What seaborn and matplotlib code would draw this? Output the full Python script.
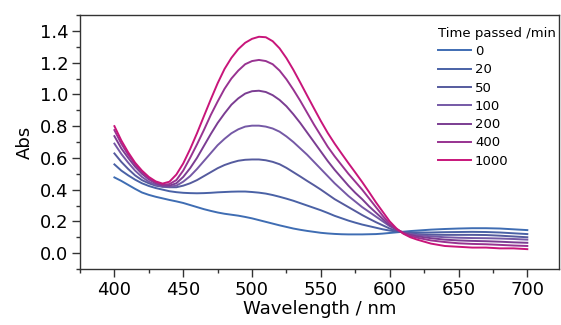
import numpy as np
import pandas as pd
import matplotlib
matplotlib.use("Agg")
import matplotlib.pyplot as plt
from matplotlib.ticker import MultipleLocator
import seaborn as sns

wavelength = list(range(400, 621, 5)) + list(range(630, 701, 10))
times = ["0", "20", "50", "100", "200", "400", "1000"]

abs_0 = [0.477, 0.455, 0.43, 0.405, 0.382, 0.367, 0.355, 0.345, 0.335, 0.326,
         0.316, 0.303, 0.29, 0.277, 0.266, 0.256, 0.248, 0.242, 0.236, 0.228,
         0.219, 0.208, 0.197, 0.186, 0.175, 0.165, 0.155, 0.147, 0.14, 0.134,
         0.128, 0.124, 0.121, 0.119, 0.118, 0.118, 0.118, 0.119, 0.12, 0.123,
         0.127, 0.131, 0.135, 0.139, 0.142,
         0.148, 0.152, 0.155, 0.157, 0.157, 0.155, 0.15, 0.145]
abs_20 = [0.559, 0.52, 0.49, 0.463, 0.44, 0.423, 0.41, 0.40, 0.39, 0.384,
          0.38, 0.378, 0.377, 0.378, 0.38, 0.383, 0.385, 0.387, 0.388, 0.388,
          0.385, 0.381, 0.375, 0.366, 0.355, 0.343, 0.33, 0.315, 0.30, 0.285,
          0.27, 0.253, 0.235, 0.22, 0.205, 0.192, 0.18, 0.17, 0.16, 0.15,
          0.142, 0.136, 0.132, 0.13, 0.13,
          0.13, 0.132, 0.133, 0.134, 0.133, 0.13, 0.125, 0.12]
abs_50 = [0.628, 0.575, 0.53, 0.49, 0.46, 0.44, 0.425, 0.418, 0.415, 0.415,
          0.425, 0.44, 0.46, 0.485, 0.51, 0.535, 0.555, 0.57, 0.582, 0.588,
          0.59, 0.59, 0.585, 0.575, 0.56, 0.537, 0.51, 0.483, 0.455, 0.428,
          0.40, 0.37, 0.34, 0.315, 0.29, 0.265, 0.24, 0.217, 0.195, 0.175,
          0.155, 0.14, 0.13, 0.124, 0.12,
          0.116, 0.115, 0.115, 0.115, 0.114, 0.11, 0.105, 0.10]
abs_100 = [0.69, 0.625, 0.57, 0.52, 0.48, 0.45, 0.43, 0.42, 0.418, 0.425,
           0.45, 0.485, 0.53, 0.58, 0.63, 0.68, 0.72, 0.755, 0.78, 0.797,
           0.803, 0.803, 0.797, 0.785, 0.765, 0.735, 0.70, 0.66, 0.62, 0.575,
           0.53, 0.485, 0.44, 0.40, 0.36, 0.325, 0.29, 0.26, 0.23, 0.20,
           0.17, 0.148, 0.13, 0.12, 0.114,
           0.106, 0.10, 0.097, 0.095, 0.094, 0.092, 0.089, 0.085]
abs_200 = [0.737, 0.66, 0.60, 0.545, 0.50, 0.465, 0.44, 0.425, 0.425, 0.44,
           0.48, 0.535, 0.60, 0.675, 0.75, 0.82, 0.88, 0.935, 0.975, 1.005,
           1.02, 1.023, 1.015, 0.995, 0.965, 0.925, 0.875, 0.82, 0.76, 0.70,
           0.64, 0.58, 0.525, 0.475, 0.425, 0.38, 0.34, 0.295, 0.255, 0.215,
           0.175, 0.148, 0.128, 0.115, 0.106,
           0.094, 0.085, 0.08, 0.077, 0.075, 0.072, 0.068, 0.065]
abs_400 = [0.775, 0.69, 0.62, 0.56, 0.51, 0.47, 0.445, 0.43, 0.435, 0.46,
           0.52, 0.60, 0.685, 0.775, 0.87, 0.955, 1.035, 1.10, 1.15, 1.19,
           1.21, 1.217, 1.21, 1.19, 1.15, 1.095, 1.03, 0.96, 0.885, 0.81,
           0.74, 0.67, 0.61, 0.555, 0.50, 0.45, 0.40, 0.345, 0.29, 0.235,
           0.185, 0.15, 0.125, 0.108, 0.097,
           0.08, 0.07, 0.062, 0.058, 0.056, 0.052, 0.048, 0.045]
abs_1000 = [0.80, 0.71, 0.635, 0.57, 0.52, 0.48, 0.452, 0.438, 0.45, 0.495,
            0.565, 0.655, 0.755, 0.862, 0.968, 1.07, 1.16, 1.23, 1.285, 1.325,
            1.35, 1.363, 1.36, 1.335, 1.29, 1.228, 1.155, 1.075, 0.993, 0.912,
            0.832, 0.757, 0.69, 0.628, 0.567, 0.508, 0.448, 0.385, 0.32, 0.26,
            0.20, 0.155, 0.122, 0.10, 0.085,
            0.06, 0.045, 0.04, 0.035, 0.035, 0.03, 0.03, 0.025]

series = [abs_0, abs_20, abs_50, abs_100, abs_200, abs_400, abs_1000]
rows = []
for t, vals in zip(times, series):
    assert len(vals) == len(wavelength), (t, len(vals))
    for w, v in zip(wavelength, vals):
        rows.append({"Wavelength": w, "Abs": v, "Time": t})
df = pd.DataFrame(rows)

palette = ["#3f6db3", "#4a62a6", "#555b9e", "#7559a6", "#7b3d92", "#983391", "#c8157a"]

plt.rcParams["font.family"] = ["DejaVu Sans"]
fig = plt.figure(figsize=(5.61, 3.25), dpi=100)
ax = fig.add_axes([0.1426, 0.1723, 0.9964 - 0.1426, 0.9538 - 0.1723])

sns.lineplot(data=df, x="Wavelength", y="Abs", hue="Time", hue_order=times,
             palette=palette, linewidth=1.4, ax=ax, legend=True)
for line in ax.get_lines():
    line.set_solid_joinstyle("round")

ax.set_xlim(375, 723)
ax.set_ylim(-0.1, 1.5)
ax.xaxis.set_minor_locator(MultipleLocator(25))
ax.yaxis.set_minor_locator(MultipleLocator(0.1))
ax.set_yticks([0.0, 0.2, 0.4, 0.6, 0.8, 1.0, 1.2, 1.4])
ax.set_yticklabels(["0.0", "0.2", "0.4", "0.6", "0.8", "1.0", "1.2", "1.4"])
ax.set_xticks([400, 450, 500, 550, 600, 650, 700])
ax.tick_params(axis="both", which="major", direction="out", length=6, width=1.0,
               labelsize=13, pad=2.5, color="#333333")
ax.tick_params(axis="both", which="minor", direction="out", length=3, width=1.0,
               color="#333333")
for s in ax.spines.values():
    s.set_color("#333333")
    s.set_linewidth(1.0)
ax.set_xlabel("Wavelength / nm", fontsize=13, labelpad=1)
ax.set_ylabel("Abs", fontsize=13, labelpad=4)

handles, labels = ax.get_legend_handles_labels()
leg = ax.legend(handles, labels, title="Time passed /min", loc="upper right",
                bbox_to_anchor=(1.01, 0.985), frameon=False, fontsize=9.5,
                title_fontsize=9.5, handlelength=2.5, handletextpad=0.3,
                labelspacing=0.4, borderaxespad=0.2, alignment="left")
for line in leg.get_lines():
    line.set_linewidth(1.4)

fig.savefig("out.png", dpi=100)
